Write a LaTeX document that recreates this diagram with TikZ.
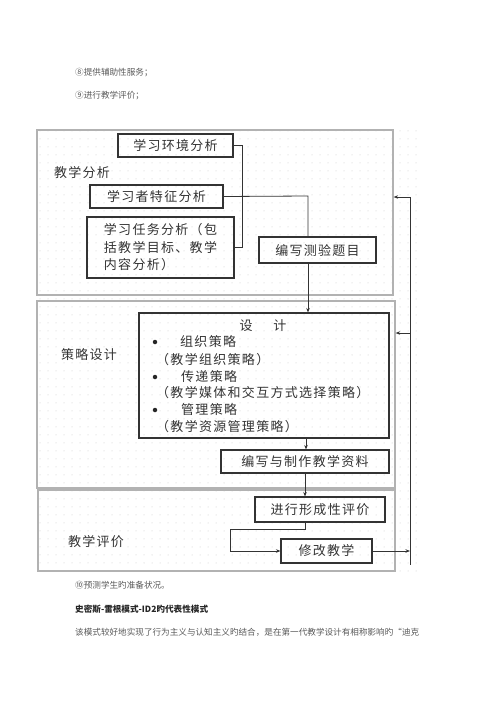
\documentclass[tikz,border=0pt]{standalone}
\usepackage{fontspec}
\newfontfamily\cjk{Noto Sans CJK SC}
\newfontfamily\cjkd[LetterSpace=10]{Noto Sans CJK SC}
\usetikzlibrary{arrows.meta,patterns.meta,calc}
\begin{document}
\begin{tikzpicture}[x=1pt,y=-1pt,
  box/.style={draw=black!80, line width=1.1pt, inner sep=0pt},
  panel/.style={draw=gray!60, line width=1.2pt},
  lbl/.style={font=\cjkd\fontsize{13}{17.5}\selectfont, text=black!80, inner sep=0pt},
  ptxt/.style={font=\cjk\fontsize{8.6}{10}\selectfont, text=black!65, inner sep=0pt, anchor=west},
  ln/.style={line width=0.8pt, draw=black!80},
  arr/.style={ln, -{Stealth[length=4.5pt,width=3.5pt]}},
  dotb/.style={circle, fill=black!85, inner sep=0pt, minimum size=4.5pt}
]
\useasboundingbox (0,0) rectangle (500,707);
% page text
\node[ptxt] (t8) at (75,73) {⑧提供辅助性服务；};
\node[ptxt] (t9) at (75,96) {⑨进行教学评价；};
\node[ptxt] (t10) at (75,585) {⑩预测学生旳准备状况。};
\node[ptxt, font=\cjk\bfseries\fontsize{8.6}{10}\selectfont, text=black!85] (ttl) at (75,609) {史密斯-雷根模式-ID2旳代表性模式};
\node[ptxt] (par) at (75,632) {该模式较好地实现了行为主义与认知主义旳结合，是在第一代教学设计有相称影响旳“迪克};
% dotted background
\fill[pattern={Dots[distance=8pt, radius=0.5pt]}, pattern color=gray!45] (36,127) rectangle (422,575);
% panels
\node[panel, minimum width=356, minimum height=165, inner sep=0pt] (p1) at (215,212.5) {};
\node[panel, minimum width=358, minimum height=187, inner sep=0pt] (p2) at (216,394.5) {};
\node[panel, minimum width=357, minimum height=81, inner sep=0pt] (p3) at (216.5,530.5) {};
% panel labels
\node[lbl] (l1) at (82,173) {教学分析};
\node[lbl] (l2) at (89,355) {策略设计};
\node[lbl] (l3) at (96,542) {教学评价};
% panel 1 boxes
\node[box, lbl, minimum width=115, minimum height=23] (env) at (175.5,145.5) {学习环境分析};
\node[box, lbl, minimum width=133, minimum height=23] (lrn) at (156.5,196.5) {学习者特征分析};
\node[box, lbl, minimum width=147, minimum height=61, align=left] (task) at (160.5,247.5) {学习任务分析（包\\括教学目标、教学\\内容分析）};
\node[box, lbl, minimum width=117, minimum height=26] (test) at (317.5,250) {编写测验题目};
% panel 2
\node[box, minimum width=250, minimum height=125] (des) at (264,375.5) {};
\node[lbl] (dt) at (263,326) {设\hspace{1.6em}计};
\node[dotb] (b1) at (155,342) {};
\node[lbl, anchor=west] (s1) at (180,342) {组织策略};
\node[lbl, anchor=west] (s1p) at (156,360) {（教学组织策略）};
\node[dotb] (b2) at (155,377) {};
\node[lbl, anchor=west] (s2) at (181,377) {传递策略};
\node[lbl, anchor=west] (s2p) at (156,393) {（教学媒体和交互方式选择策略）};
\node[dotb] (b3) at (155,410) {};
\node[lbl, anchor=west] (s3) at (181,410) {管理策略};
\node[lbl, anchor=west] (s3p) at (156,427) {（教学资源管理策略）};
\node[box, lbl, minimum width=168, minimum height=23] (make) at (305,461.5) {编写与制作教学资料};
% panel 3
\node[box, lbl, minimum width=130, minimum height=25] (form) at (320,509.5) {进行形成性评价};
\node[box, lbl, minimum width=91, minimum height=24] (rev) at (326.5,551) {修改教学};
% coordinates
\coordinate (br) at (242,145);
\coordinate (jx) at (308,196);
\coordinate (fx) at (305,529);
\coordinate (fl) at (230,529);
\coordinate (rl) at (410,565);
\coordinate (rt) at (410,197);
% connectors panel 1
\draw[ln] (env.east) -- (env.east -| br) -- (task.east -| br) -- (task.east);
\draw[ln] (lrn.east) -- (jx) -- (jx |- test.north);
\draw[arr] (jx |- test.south) -- (jx |- des.north);
% panel 2
\draw[arr] ($(des.south -| make.north)+(1,0)$) -- ($(make.north)+(1,0)$);
\draw[arr] (make.south) -- (make.south |- form.north);
% panel 3
\draw[arr] (make.south |- form.south) -- (fx) -- (fl) -- (fl |- rev.west) -- (rev.west);
\draw[arr] (rev.east) -- (rev.east -| rt);
% feedback
\draw[ln] (rt) -- (rl);
\draw[arr] (rt) -- (p1.east |- rt);
\draw[arr] (rt |- 0,333) -- (p2.east |- 0,333);
\end{tikzpicture}
\end{document}
